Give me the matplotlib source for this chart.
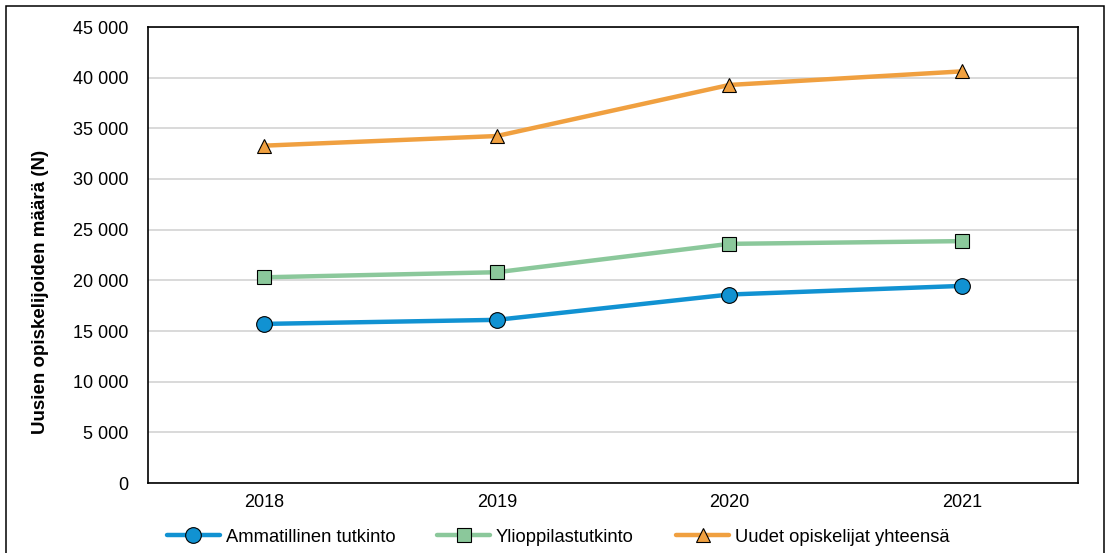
import matplotlib
matplotlib.use("Agg")
import matplotlib.pyplot as plt
from matplotlib.patches import Rectangle
from matplotlib.ticker import FuncFormatter, MultipleLocator

plt.rcParams['font.family'] = ['Liberation Sans', 'DejaVu Sans']

years = ["2018", "2019", "2020", "2021"]
ammatillinen = [15700, 16100, 18600, 19450]
ylioppilas = [20300, 20800, 23600, 23870]
yhteensa = [33290, 34240, 39280, 40620]

labels = ["Ammatillinen tutkinto", "Ylioppilastutkinto", "Uudet opiskelijat yhteensä"]
colors = ["#1192D2", "#8BC89B", "#F0A040"]
markers = ["o", "s", "^"]
msizes = [11.3, 9.6, 10.5]

W, H = 1107, 553
fig = plt.figure(figsize=(W / 100, H / 100), dpi=100)
ax = fig.add_axes([148 / W, (H - 483) / H, 930 / W, 456 / H])

x = list(range(len(years)))
for vals, lab, c, m, ms in zip([ammatillinen, ylioppilas, yhteensa], labels, colors, markers, msizes):
    ax.plot(x, vals, color=c, lw=3.2, marker=m, markersize=ms, markerfacecolor=c,
            markeredgecolor="black", markeredgewidth=0.8, label=lab, zorder=3,
            solid_capstyle="round")

ax.set_xlim(-0.5, len(years) - 0.5)
ax.set_ylim(0, 45000)
ax.set_xticks(x)
ax.set_xticklabels(years)
ax.yaxis.set_major_locator(MultipleLocator(5000))
ax.yaxis.set_major_formatter(FuncFormatter(lambda v, p: f"{int(v):,}".replace(",", " ")))
ax.tick_params(axis="y", length=0, pad=14, labelsize=13)
ax.tick_params(axis="x", length=0, pad=8, labelsize=13)
ax.grid(axis="y", color="#D9D9D9", lw=1.4, zorder=0)
ax.set_axisbelow(True)
for s in ax.spines.values():
    s.set_color("black")
    s.set_linewidth(1.2)

ax.set_ylabel("Uusien opiskelijoiden määrä (N)", fontsize=13.5, fontweight="bold")
ax.yaxis.set_label_coords(-(148 - 41) / 930, (483 - 292) / 456)
ax.yaxis.label.set_va("center")

fig.legend(loc="center", bbox_to_anchor=(558 / W, 1 - 537 / H), ncol=3, frameon=False,
           fontsize=13.2, handlelength=2.9, handletextpad=0.3, columnspacing=2.3,
           borderaxespad=0, borderpad=0)

fig.patches.append(Rectangle((6 / W, -0.02), (1104 - 6) / W, 1.02 - 6 / H,
                             transform=fig.transFigure, fill=False, edgecolor="black",
                             lw=1.1, zorder=10))

fig.savefig("out.png", dpi=100)
